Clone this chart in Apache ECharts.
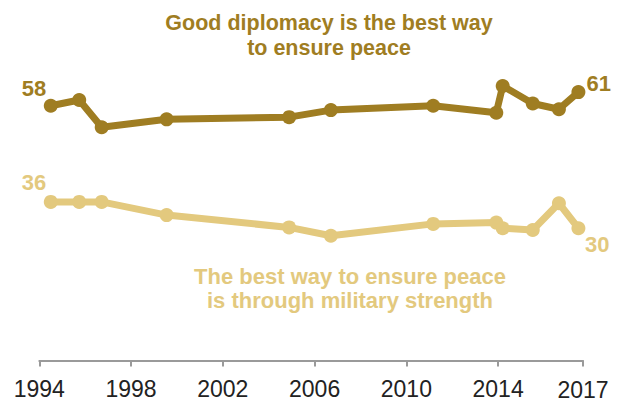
<!DOCTYPE html>
<html>
<head>
<meta charset="utf-8">
<script src="https://cdn.jsdelivr.net/npm/echarts@6/dist/echarts.min.js"></script>
<style>
html,body{margin:0;padding:0;background:#fff;}
#chart{width:628px;height:403px;}
</style>
</head>
<body>
<div id="chart"></div>
<script>
// Survey dates (decimal years)
const surveyYears = [1994.5, 1995.74, 1996.72, 1999.55, 2004.89, 2006.71, 2011.17, 2013.92, 2014.2, 2015.51, 2016.65, 2017.5];
// Good diplomacy is the best way to ensure peace (%)
const diplomacy = [58, 59.3, 53.1, 54.9, 55.4, 57, 58, 56.4, 62.5, 58.5, 57.2, 61.1];
// The best way to ensure peace is through military strength (%)
const military = [36.1, 36.1, 36.1, 33.1, 30.3, 28.4, 31.1, 31.4, 30.1, 29.7, 35.8, 30.1];
const seriesNames = ['Good diplomacy is the best way\nto ensure peace', 'The best way to ensure peace\nis through military strength'];
const tickValues = [1994, 1998, 2002, 2006, 2010, 2014, 2017.7];
const tickLabels = ['1994', '1998', '2002', '2006', '2010', '2014', '2017'];

const DARK = '#9F7D22';
const LIGHT = '#E3C97E';
const FONT = '"Liberation Sans", Arial, sans-serif';

function buildData(values, firstLabel, lastLabel) {
  return values.map((v, i) => {
    const item = { value: [surveyYears[i], v] };
    if (i === 0) item.label = Object.assign({ show: true }, firstLabel);
    if (i === values.length - 1) item.label = Object.assign({ show: true }, lastLabel);
    return item;
  });
}

const chart = echarts.init(document.getElementById('chart'), null, { renderer: 'svg' });

const labelBase = {
  fontFamily: FONT,
  fontSize: 22,
  fontWeight: 'bold',
  formatter: p => String(Math.round(p.value[1]))
};

const option = {
  animation: false,
  backgroundColor: '#fff',
  grid: { left: 39.3, right: 45, top: 53, bottom: 42.5, containLabel: false, outerBoundsMode: 'none' },
  xAxis: {
    type: 'value',
    min: 1994,
    max: 2017.7,
    splitLine: { show: false },
    axisLine: { show: true, lineStyle: { color: '#9a9a9a', width: 2 } },
    axisTick: { show: true, length: 6, lineStyle: { color: '#9a9a9a', width: 2 }, customValues: tickValues },
    axisLabel: {
      customValues: tickValues,
      margin: 18,
      color: '#222',
      fontFamily: FONT,
      fontSize: 23,
      lineHeight: 20,
      formatter: v => {
        const idx = tickValues.findIndex(t => Math.abs(t - v) < 0.01);
        const txt = idx >= 0 ? tickLabels[idx] : '';
        return idx === tickValues.length - 1 ? '{late|' + txt + '}' : txt;
      },
      rich: { late: { fontFamily: FONT, fontSize: 23, color: '#222', lineHeight: 20, padding: [3, 0, 0, 0] } }
    }
  },
  yAxis: {
    type: 'value',
    min: 0,
    max: 70,
    show: false,
    splitLine: { show: false }
  },
  title: [
    {
      text: seriesNames[0],
      left: 329, top: 10, padding: 0,
      textAlign: 'center', textVerticalAlign: 'top',
      textStyle: { color: DARK, fontFamily: FONT, fontSize: 21.5, fontWeight: 'bold', lineHeight: 25 }
    },
    {
      text: seriesNames[1],
      left: 350, top: 264, padding: 0,
      textAlign: 'center', textVerticalAlign: 'top',
      textStyle: { color: LIGHT, fontFamily: FONT, fontSize: 22, fontWeight: 'bold', lineHeight: 24 }
    }
  ],
  series: [
    {
      name: 'diplomacy',
      type: 'line',
      data: buildData(diplomacy,
        Object.assign({}, labelBase, { position: 'left', distance: 0, offset: [2.5, -17.5], color: DARK }),
        Object.assign({}, labelBase, { position: 'right', distance: 1, offset: [0, -8.6], color: DARK })),
      symbol: 'circle',
      symbolSize: 14,
      showAllSymbol: true,
      lineStyle: { color: DARK, width: 7, join: 'round' },
      itemStyle: { color: DARK },
      label: { show: false },
      z: 3
    },
    {
      name: 'military',
      type: 'line',
      data: buildData(military,
        Object.assign({}, labelBase, { position: 'left', distance: 0, offset: [2.5, -19.5], color: LIGHT }),
        Object.assign({}, labelBase, { position: 'right', distance: 0, offset: [-0.5, 16.6], color: LIGHT })),
      symbol: 'circle',
      symbolSize: 14,
      showAllSymbol: true,
      lineStyle: { color: LIGHT, width: 7, join: 'round' },
      itemStyle: { color: LIGHT },
      label: { show: false },
      z: 2
    }
  ]
};
chart.setOption(option);
</script>
</body>
</html>
